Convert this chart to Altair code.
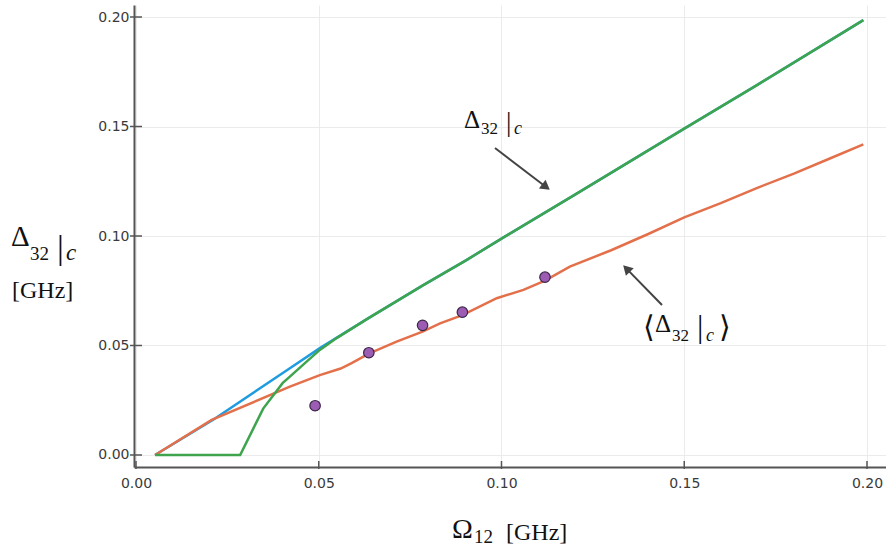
import altair as alt
import pandas as pd
import math

# ---------------- data ----------------
blue_x = [0.0052, 0.0210, 0.0421, 0.0503, 0.0635, 0.0786, 0.0904, 0.1000, 0.1200, 0.1500, 0.1700, 0.1990]
blue_y = [0.0000, 0.0160, 0.0396, 0.0488, 0.0624, 0.0776, 0.0890, 0.0988, 0.1188, 0.1490, 0.1690, 0.1986]

green_x = [0.0052, 0.0285, 0.0348, 0.0401, 0.0421, 0.0466, 0.0503, 0.0550, 0.0635, 0.0786, 0.0904,
           0.1000, 0.1200, 0.1500, 0.1700, 0.1990]
green_y = [0.0000, 0.0000, 0.0212, 0.0328, 0.0358, 0.0425, 0.0480, 0.0535, 0.0624, 0.0776, 0.0890,
           0.0988, 0.1188, 0.1490, 0.1690, 0.1986]

orange_x = [0.0052, 0.0207, 0.0421, 0.0503, 0.0560, 0.0590, 0.0637, 0.0713, 0.0784, 0.0832, 0.0893,
            0.0987, 0.1060, 0.1119, 0.1187, 0.1300, 0.1400, 0.1500, 0.1600, 0.1700, 0.1800, 0.1900, 0.1990]
orange_y = [0.0000, 0.0160, 0.0312, 0.0365, 0.0395, 0.0420, 0.0463, 0.0518, 0.0563, 0.0601, 0.0639,
            0.0716, 0.0754, 0.0796, 0.0860, 0.0935, 0.1008, 0.1085, 0.1150, 0.1220, 0.1285, 0.1355, 0.1418]

dots_x = [0.0490, 0.0637, 0.0784, 0.0893, 0.1119]
dots_y = [0.0225, 0.0467, 0.0592, 0.0652, 0.0812]

tick_values = [0.0, 0.05, 0.10, 0.15, 0.20]

# ---------------- layout ----------------
W, H = 752, 462
PAD_L, PAD_T = 134, 5
X_DOM = [-0.000547, 0.2052]
Y_DOM = [-0.00548, 0.20548]

BLUE, ORANGE, GREEN = "#1f9be0", "#e3704a", "#3ea44e"
AX = "#555555"
SERIF = "Liberation Serif"

xs = alt.Scale(domain=X_DOM, nice=False, zero=False)
ys = alt.Scale(domain=Y_DOM, nice=False, zero=False)

xaxis = alt.Axis(values=tick_values, format=".2f", title=None, grid=True, ticks=False, tickSize=0,
                 labelPadding=9, labelFont="DejaVu Sans", labelFontSize=14, labelColor="#3a3a3a",
                 domainColor=AX, domainWidth=2, gridColor="#ebebeb", gridWidth=1)
yaxis = alt.Axis(values=tick_values, format=".2f", title=None, grid=True, ticks=False, tickSize=0,
                 labelPadding=5, labelFont="DejaVu Sans", labelFontSize=14, labelColor="#3a3a3a",
                 domainColor=AX, domainWidth=2, gridColor="#ebebeb", gridWidth=1)


def series(xv, yv, color):
    df = pd.DataFrame({"x": xv, "y": yv, "o": list(range(len(xv)))})
    return alt.Chart(df).mark_line(color=color, strokeWidth=2.5, clip=True).encode(
        x=alt.X("x:Q", scale=xs, axis=xaxis),
        y=alt.Y("y:Q", scale=ys, axis=yaxis),
        order="o:Q",
    )


blue = series(blue_x, blue_y, BLUE)
orange = series(orange_x, orange_y, ORANGE)
green = series(green_x, green_y, GREEN)

dots = alt.Chart(pd.DataFrame({"x": dots_x, "y": dots_y})).mark_point(
    filled=True, size=110, color="#9c5cb4", stroke="#3a2747", strokeWidth=1.2, opacity=1
).encode(x=alt.X("x:Q", scale=xs), y=alt.Y("y:Q", scale=ys))

# inward tick marks
tick_df = pd.DataFrame({"v": tick_values})
xticks = alt.Chart(tick_df).mark_rule(color=AX, strokeWidth=1.5).encode(
    x=alt.X("v:Q", scale=xs), y=alt.value(H - 6), y2=alt.value(H + 2))
yticks = alt.Chart(tick_df).mark_rule(color=AX, strokeWidth=1.5).encode(
    y=alt.Y("v:Q", scale=ys), x=alt.value(-4), x2=alt.value(8))

# ---------------- text pieces (absolute px -> plot-relative) ----------------
pieces = [
    # left axis label
    ("Δ", 11, 246, 29, "normal"),
    ("32", 30, 260, 19, "normal"),
    ("|", 57, 259, 34, "normal"),
    ("c", 66, 260, 23, "italic"),
    ("[GHz]", 12, 298, 24, "normal"),
    # bottom axis label
    ("Ω", 452, 538, 28, "normal"),
    ("12", 474, 543, 19, "normal"),
    ("[GHz]", 506, 540, 24, "normal"),
    # annotation 1
    ("Δ", 464, 128, 25, "normal"),
    ("32", 481, 134, 17, "normal"),
    ("|", 506, 131, 27, "normal"),
    ("c", 514, 134, 18, "italic"),
    # annotation 2
    ("⟨", 643, 337, 30, "normal"),
    ("Δ", 655, 332, 25, "normal"),
    ("32", 672, 341, 17, "normal"),
    ("|", 697, 337, 32, "normal"),
    ("c", 706, 341, 18, "italic"),
    ("⟩", 719, 337, 30, "normal"),
]

texts = []
for t, px, py, sz, style in pieces:
    texts.append(
        alt.Chart(pd.DataFrame({"t": [t]})).mark_text(
            font=SERIF, fontSize=sz, fontStyle=style, align="left", baseline="alphabetic", color="#111111"
        ).encode(x=alt.value(px - PAD_L), y=alt.value(py - PAD_T), text="t:N")
    )

# arrows (absolute px)
arrows = [
    ((495, 148), (550, 190)),
    ((662, 305), (623, 265)),
]
arrow_layers = []
for (x0, y0), (x1, y1) in arrows:
    dx, dy = x1 - x0, y1 - y0
    L = math.hypot(dx, dy)
    ux, uy = dx / L, dy / L
    cx, cy = x1 - 5 * ux, y1 - 5 * uy
    ang = math.degrees(math.atan2(dy, dx)) % 360
    one = pd.DataFrame({"a": [0]})
    arrow_layers.append(
        alt.Chart(one).mark_rule(color="#444444", strokeWidth=2).encode(
            x=alt.value(x0 - PAD_L), y=alt.value(y0 - PAD_T),
            x2=alt.value(cx - PAD_L), y2=alt.value(cy - PAD_T))
    )
    arrow_layers.append(
        alt.Chart(one).mark_point(shape="triangle-right", filled=True, size=120, color="#444444",
                                  opacity=1, angle=ang).encode(
            x=alt.value(cx - PAD_L), y=alt.value(cy - PAD_T))
    )

chart = alt.layer(blue, orange, green, dots, xticks, yticks, *arrow_layers, *texts).properties(
    width=W, height=H,
    background="white",
    autosize=alt.AutoSizeParams(type="none"),
    padding={"left": PAD_L, "top": PAD_T, "right": 0, "bottom": 554 - H - PAD_T},
).configure_view(stroke=None)

chart.save("out.html", embed_options={"renderer": "svg", "actions": False})
